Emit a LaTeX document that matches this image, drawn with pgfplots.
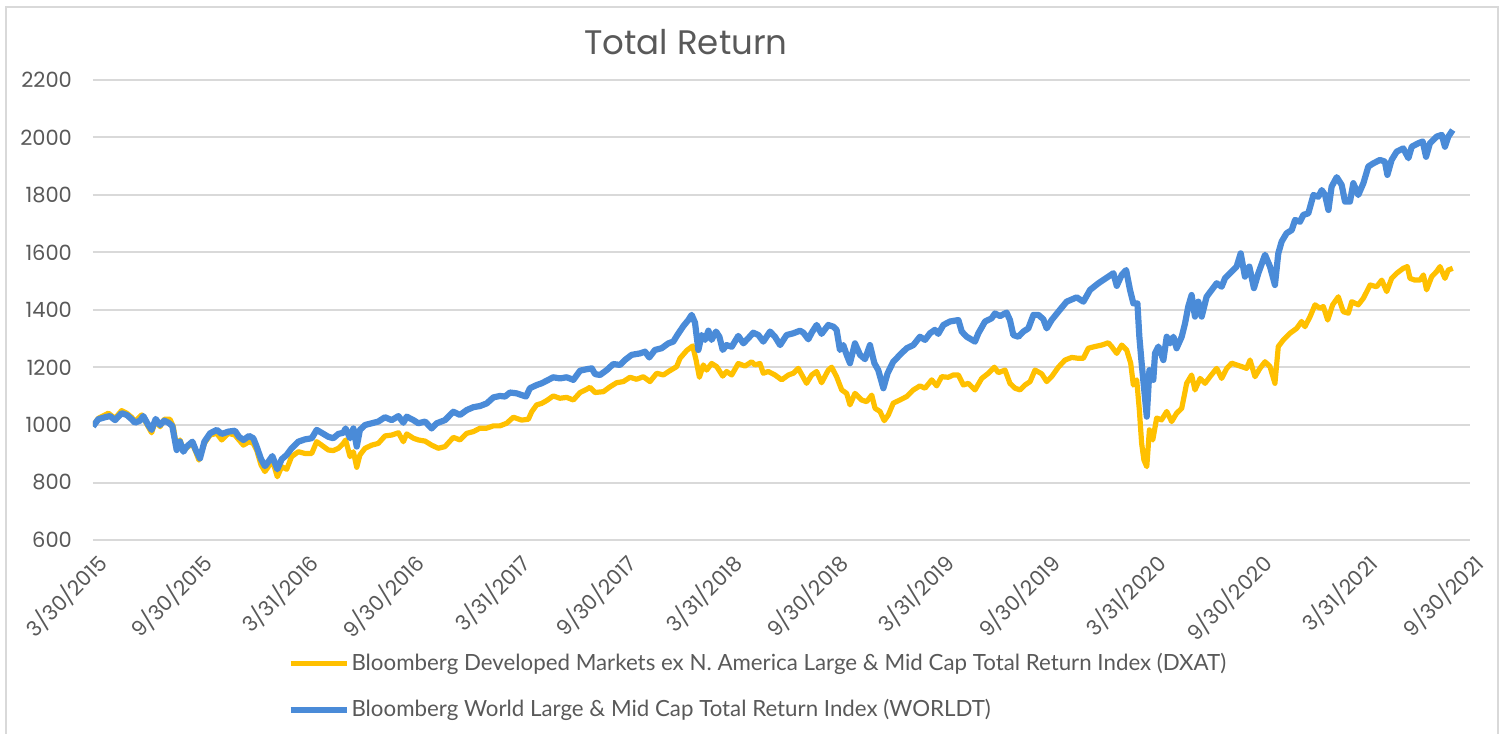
\documentclass[border=0pt]{standalone}
\usepackage{pgfplots}
\pgfplotsset{compat=1.18}
\usepackage{pgfplotstable}
\usepackage{fontspec}
\setmainfont{Poppins}
\newfontfamily\legfont{Lato}
\definecolor{dxat}{HTML}{FFC000}
\definecolor{worldt}{HTML}{4A8BD8}
\definecolor{txt}{HTML}{595959}
\definecolor{gridc}{HTML}{D9D9D9}

% x = months since 3/30/2015
\pgfplotstableread{
m v
0 996
0.30 1023
0.87 1041
1.25 1023
1.62 1050
1.91 1041
2.19 1027
2.38 1012
2.76 1035
3.13 994
3.32 973
3.55 1017
3.80 994
4.04 1020
4.36 1020
4.55 994
4.74 919
4.93 948
5.12 913
5.40 925
5.63 936
5.82 907
6.00 878
6.31 936
6.63 965
7.01 971
7.29 948
7.67 971
8.04 965
8.27 948
8.52 930
8.84 942
9.08 936
9.27 913
9.52 861
9.74 838
9.93 855
10.16 878
10.44 820
10.69 855
10.97 846
11.25 890
11.63 907
12.01 901
12.39 901
12.67 942
12.95 930
13.33 913
13.61 911
13.90 919
14.18 936
14.31 948
14.56 890
14.75 907
14.94 853
15.12 896
15.41 919
15.79 930
16.16 936
16.54 962
16.92 965
17.30 973
17.58 942
17.77 969
18.15 954
18.43 948
18.81 944
19.18 930
19.56 919
19.94 925
20.41 957
20.79 948
21.17 971
21.55 977
21.92 989
22.30 989
22.68 997
23.05 997
23.43 1006
23.81 1027
24.28 1017
24.66 1020
24.85 1046
25.13 1070
25.41 1075
25.70 1085
26.07 1101
26.45 1093
26.83 1096
27.21 1087
27.59 1113
27.96 1124
28.15 1131
28.44 1113
28.91 1116
29.29 1133
29.66 1147
30.04 1151
30.42 1166
30.79 1159
31.17 1168
31.55 1151
31.93 1180
32.31 1174
32.68 1189
33.06 1203
33.25 1232
33.63 1259
33.97 1275
34.16 1226
34.35 1166
34.57 1209
34.76 1191
35.04 1214
35.33 1203
35.67 1170
35.89 1186
36.18 1174
36.55 1214
36.93 1205
37.31 1220
37.50 1209
37.78 1214
37.97 1180
38.25 1186
38.63 1174
39.01 1157
39.39 1174
39.67 1180
39.95 1197
40.42 1145
40.71 1174
40.99 1186
41.27 1147
41.65 1191
41.84 1201
42.12 1168
42.41 1122
42.69 1110
42.88 1070
43.16 1110
43.54 1087
43.82 1081
44.11 1104
44.30 1058
44.58 1047
44.82 1015
45.05 1035
45.33 1076
45.71 1087
46.09 1099
46.47 1122
46.84 1136
47.13 1128
47.51 1157
47.79 1136
48.07 1168
48.45 1166
48.73 1174
49.02 1174
49.30 1139
49.58 1145
49.96 1122
50.34 1162
50.72 1180
51.06 1201
51.28 1182
51.66 1191
51.94 1145
52.23 1128
52.51 1122
52.79 1139
53.08 1151
53.36 1191
53.74 1178
54.02 1151
54.30 1168
54.68 1201
55.06 1226
55.44 1235
55.81 1232
56.10 1232
56.38 1267
56.76 1273
57.14 1278
57.51 1286
57.70 1273
57.99 1249
58.27 1278
58.55 1261
58.78 1215
58.93 1139
59.12 1157
59.27 1052
59.40 936
59.53 878
59.69 855
59.84 983
60.03 948
60.25 1024
60.53 1018
60.82 1047
61.10 1012
61.38 1041
61.67 1058
61.95 1145
62.23 1174
62.42 1122
62.71 1162
62.99 1145
63.27 1168
63.65 1197
63.93 1162
64.22 1197
64.50 1215
64.78 1209
65.07 1203
65.35 1197
65.54 1226
65.82 1168
66.10 1197
66.39 1220
66.67 1203
66.95 1145
67.14 1273
67.43 1296
67.80 1319
68.18 1336
68.46 1360
68.65 1342
68.94 1377
69.22 1418
69.50 1406
69.69 1412
69.94 1365
70.22 1418
70.54 1446
70.82 1394
71.11 1389
71.30 1429
71.67 1418
71.96 1441
72.34 1487
72.71 1481
73.00 1504
73.28 1464
73.56 1510
73.85 1528
74.22 1545
74.45 1551
74.60 1510
74.88 1504
75.17 1504
75.36 1522
75.54 1470
75.83 1516
76.11 1534
76.30 1551
76.58 1510
76.77 1539
77.02 1545
}\dxat

\pgfplotstableread{
m v
0 995
0.30 1020
0.68 1027
0.96 1031
1.25 1017
1.62 1041
1.91 1035
2.19 1020
2.38 1008
2.66 1015
2.85 1031
3.13 1000
3.32 983
3.55 1021
3.80 1000
4.04 1015
4.27 1008
4.49 997
4.74 913
4.93 942
5.12 907
5.31 925
5.63 942
5.82 913
6.06 884
6.31 942
6.63 971
7.01 983
7.29 969
7.67 977
8.04 980
8.27 959
8.52 948
8.84 962
9.08 954
9.27 925
9.52 881
9.74 857
9.93 872
10.16 892
10.44 846
10.69 881
10.97 896
11.25 919
11.63 942
12.01 950
12.39 954
12.67 983
12.95 973
13.33 959
13.61 954
13.90 969
14.18 973
14.31 988
14.56 954
14.75 988
14.94 925
15.12 983
15.41 1000
15.79 1006
16.16 1012
16.54 1027
16.92 1017
17.30 1031
17.58 1008
17.77 1029
18.15 1017
18.43 1006
18.81 1012
19.18 988
19.47 1006
19.94 1017
20.41 1046
20.79 1035
21.17 1052
21.55 1062
21.92 1066
22.30 1075
22.68 1096
23.05 1101
23.34 1099
23.62 1113
24.00 1110
24.53 1099
24.75 1128
25.13 1139
25.41 1145
25.70 1154
26.07 1166
26.45 1162
26.83 1166
27.21 1157
27.59 1189
27.96 1194
28.25 1197
28.44 1177
28.72 1174
29.10 1191
29.47 1212
29.85 1209
30.13 1226
30.51 1244
30.98 1249
31.27 1255
31.51 1235
31.83 1261
32.21 1267
32.59 1284
32.87 1290
33.10 1313
33.44 1344
33.72 1365
33.91 1383
34.10 1356
34.29 1261
34.48 1313
34.67 1296
34.86 1328
35.04 1296
35.29 1325
35.48 1307
35.67 1261
35.89 1278
36.18 1272
36.55 1310
36.84 1284
37.12 1302
37.40 1321
37.69 1313
37.97 1290
38.35 1325
38.63 1307
38.92 1278
39.29 1313
39.67 1319
40.05 1328
40.24 1321
40.52 1298
40.71 1321
40.99 1348
41.27 1317
41.65 1348
41.94 1342
42.12 1331
42.31 1261
42.50 1278
42.69 1244
42.88 1215
43.16 1284
43.45 1244
43.73 1229
44.01 1278
44.26 1215
44.48 1191
44.77 1128
45.01 1180
45.33 1220
45.71 1244
46.09 1267
46.47 1278
46.84 1307
47.13 1296
47.41 1319
47.69 1331
47.88 1317
48.17 1348
48.54 1360
49.02 1365
49.21 1325
49.49 1307
49.96 1290
50.15 1319
50.53 1360
50.90 1371
51.09 1388
51.38 1379
51.75 1391
51.94 1365
52.13 1313
52.42 1307
52.70 1325
52.98 1336
53.27 1383
53.55 1383
53.83 1368
54.02 1336
54.30 1365
54.68 1394
55.15 1429
55.72 1444
56.10 1429
56.48 1470
56.95 1493
57.51 1516
57.80 1528
57.99 1484
58.27 1522
58.52 1539
58.74 1470
58.93 1423
59.16 1423
59.27 1307
59.40 1215
59.53 1133
59.69 1029
59.84 1191
59.97 1168
60.06 1157
60.16 1250
60.35 1273
60.63 1226
60.82 1307
61.01 1284
61.20 1307
61.38 1267
61.67 1307
61.86 1354
62.04 1412
62.23 1452
62.42 1377
62.61 1429
62.80 1377
63.08 1446
63.37 1470
63.65 1493
63.93 1481
64.12 1510
64.50 1534
64.78 1551
65.01 1597
65.25 1516
65.50 1551
65.76 1476
66.01 1528
66.39 1592
66.67 1551
66.95 1487
67.14 1597
67.33 1638
67.61 1667
67.90 1678
68.09 1713
68.37 1707
68.56 1731
68.84 1736
69.13 1800
69.41 1794
69.60 1817
69.79 1800
69.98 1748
70.16 1829
70.45 1862
70.73 1835
70.92 1777
71.20 1777
71.39 1841
71.67 1800
71.96 1841
72.24 1899
72.52 1910
72.90 1922
73.18 1916
73.32 1870
73.56 1922
73.85 1951
74.22 1962
74.51 1928
74.70 1968
75.07 1980
75.32 1986
75.51 1933
75.73 1980
76.11 2003
76.40 2009
76.58 1968
76.77 2003
77.02 2026
}\worldt

\begin{document}
\begin{tikzpicture}
\useasboundingbox (-46.5pt,-96.5pt) rectangle (707.5pt,270pt);
\draw[gridc, line width=0.8pt] (-43.5pt,-130pt) -- (-43.5pt,266.5pt) -- (702.5pt,266.5pt) -- (702.5pt,-130pt);
\node[font=\fontsize{17}{20}\selectfont, text=txt] at (296.5pt,249pt) {Total Return};
\begin{axis}[
  at={(0pt,0pt)}, anchor=south west,
  scale only axis, width=688.5pt, height=230pt,
  xmin=0, xmax=78, ymin=600, ymax=2200,
  axis line style={draw=none},
  ytick={600,800,...,2200},
  xtick={0,6,...,78},
  xticklabels={3/30/2015,9/30/2015,3/31/2016,9/30/2016,3/31/2017,9/30/2017,3/31/2018,9/30/2018,3/31/2019,9/30/2019,3/31/2020,9/30/2020,3/31/2021,9/30/2021},
  major tick length=0pt,
  ymajorgrids, grid style={gridc, line width=1pt},
  xticklabel style={rotate=45, anchor=north east, font=\fontsize{10.5}{12}\selectfont, text=txt, xshift=0pt, yshift=-1pt},
  yticklabel style={font=\fontsize{10.5}{12}\selectfont, text=txt, xshift=-7pt},
  /pgf/number format/assume math mode=true,
  /pgf/number format/1000 sep={},
  legend style={at={(0.1409,-0.241)}, anchor=north west, draw=none, fill=none,
    font=\legfont\fontsize{11.15}{13}\selectfont, text=txt, row sep=11pt,
    inner sep=0pt, nodes={inner xsep=0.5pt, inner ysep=1pt}},
  legend cell align=left,
  legend image code/.code={\draw[#1] (0cm,0cm) -- (1cm,0cm);},
]
\addplot[dxat, line width=2.6pt, line join=round] table[x=m, y=v] {\dxat};
\addlegendentry{Bloomberg Developed Markets ex N. America Large \& Mid Cap Total Return Index (DXAT)}
\addplot[worldt, line width=3.1pt, line join=round] table[x=m, y=v] {\worldt};
\addlegendentry{Bloomberg World Large \& Mid Cap Total Return Index (WORLDT)}
\end{axis}
\end{tikzpicture}
\end{document}
